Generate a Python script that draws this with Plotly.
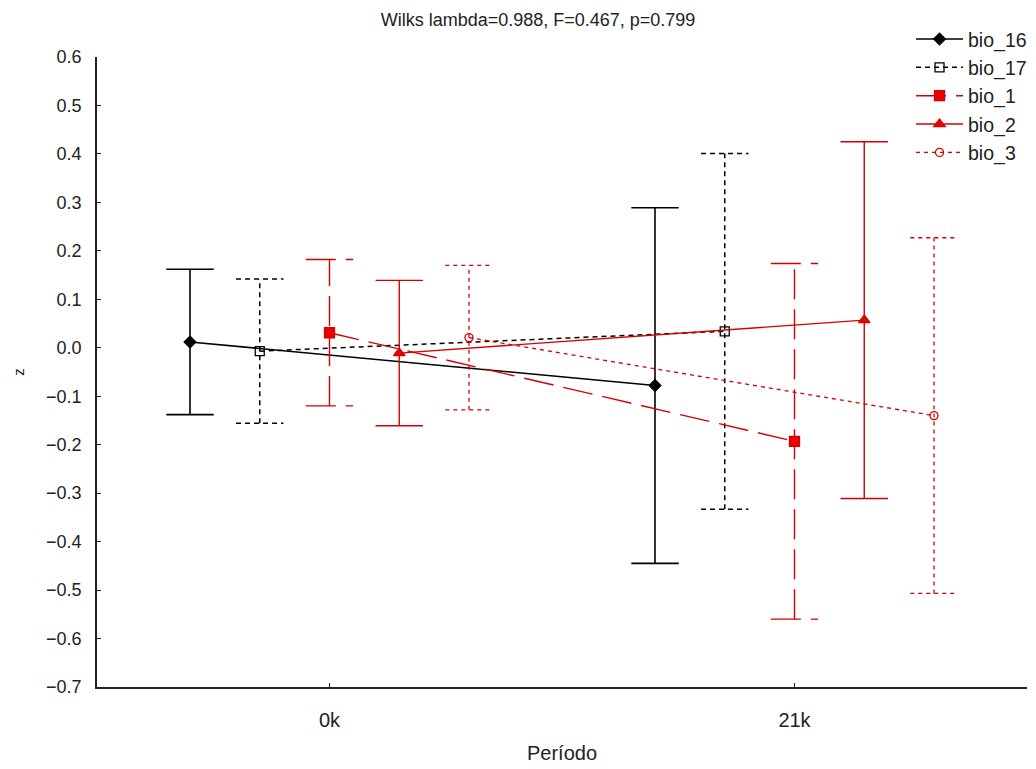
import plotly.graph_objects as go

# ---- data ----
categories = ["0k", "21k"]
series_names = ["bio_16", "bio_17", "bio_1", "bio_2", "bio_3"]
bio_16_mean = [0.012, -0.078]
bio_17_mean = [-0.007, 0.034]
bio_1_mean = [0.031, -0.193]
bio_2_mean = [-0.011, 0.057]
bio_3_mean = [0.021, -0.140]
bio_16_err = [0.150, 0.367]
bio_17_err = [0.149, 0.367]
bio_1_err = [0.151, 0.367]
bio_2_err = [0.150, 0.368]
bio_3_err = [0.149, 0.367]
y_ticks = [-0.7, -0.6, -0.5, -0.4, -0.3, -0.2, -0.1, 0.0, 0.1, 0.2, 0.3, 0.4, 0.5, 0.6]
title_text = "Wilks lambda=0.988, F=0.467, p=0.799"
x_title = "Período"
y_title = "z"

means = [bio_16_mean, bio_17_mean, bio_1_mean, bio_2_mean, bio_3_mean]
errs = [bio_16_err, bio_17_err, bio_1_err, bio_2_err, bio_3_err]

# ---- styles ----
RED = "#d40000"
styles = {
    "bio_16": dict(offset=-0.30, color="black", dash="solid", width=1.6,
                   symbol="diamond", msize=9, mfill="black"),
    "bio_17": dict(offset=-0.15, color="black", dash="5px,4px", width=1.5,
                   symbol="square-open", msize=9, mfill="black"),
    "bio_1": dict(offset=0.0, color=RED, dash="30px,10px", width=1.4,
                  symbol="square", msize=10, mfill="#ee0000"),
    "bio_2": dict(offset=0.15, color=RED, dash="solid", width=1.4,
                  symbol="triangle-up", msize=10, mfill="#ee0000"),
    "bio_3": dict(offset=0.30, color=RED, dash="4px,4px", width=1.3,
                  symbol="circle-open", msize=8, mfill=RED),
}
CAP = 0.051

fig = go.Figure()
cat_pos = list(range(len(categories)))

for name, m, e in zip(series_names, means, errs):
    s = styles[name]
    xs = [c + s["offset"] for c in cat_pos]
    # error bars built from data
    ex, ey = [], []
    for x, mv, ev in zip(xs, m, e):
        lo, hi = mv - ev, mv + ev
        ex += [x, x, None, x - CAP, x + CAP, None, x - CAP, x + CAP, None]
        ey += [lo, hi, None, hi, hi, None, lo, lo, None]
    fig.add_trace(go.Scatter(
        x=ex, y=ey, mode="lines", showlegend=False, legendgroup=name,
        line=dict(color=s["color"], dash=s["dash"], width=s["width"]),
        hoverinfo="skip"))
    fig.add_trace(go.Scatter(
        x=xs, y=m, mode="lines+markers", name=name, legendgroup=name,
        line=dict(color=s["color"], dash=s["dash"], width=s["width"]),
        marker=dict(symbol=s["symbol"], size=s["msize"], color=s["mfill"],
                    line=dict(color=s["color"], width=1.3))))

fig.update_layout(
    width=1036, height=769,
    margin=dict(l=97, r=9, t=57, b=82, autoexpand=False),
    paper_bgcolor="white", plot_bgcolor="white",
    font=dict(family="Liberation Sans, Arial, sans-serif", color="#222"),
    title=dict(text=title_text, x=538 / 1036, xref="container", xanchor="center",
               y=1 - 20 / 769, yref="container", yanchor="middle",
               font=dict(size=18, color="#222")),
    showlegend=True,
    legend=dict(x=0.8753, y=1.059, xanchor="left", yanchor="top",
                font=dict(size=19.5, color="#222"), bgcolor="rgba(0,0,0,0)",
                tracegroupgap=0, itemwidth=47),
    xaxis=dict(range=[-0.5, 1.5], tickvals=cat_pos, ticktext=categories,
               showgrid=False, zeroline=False, showline=True, linecolor="#222",
               linewidth=1.5, ticks="inside", ticklen=4, tickcolor="#222",
               tickfont=dict(size=20, color="#222"), ticklabelstandoff=14,
               title=dict(text=x_title, font=dict(size=20, color="#222"), standoff=16)),
    yaxis=dict(range=[-0.7, 0.6], tickvals=y_ticks, tickformat=".1f",
               showgrid=False, zeroline=False, showline=True, linecolor="#222",
               linewidth=1.5, ticks="inside", ticklen=4, tickcolor="#222",
               tickfont=dict(size=18, color="#222"), ticklabelstandoff=10,
               title=dict(text=y_title, font=dict(size=15, color="#222"), standoff=18)),
)

fig.write_html("out.html")
